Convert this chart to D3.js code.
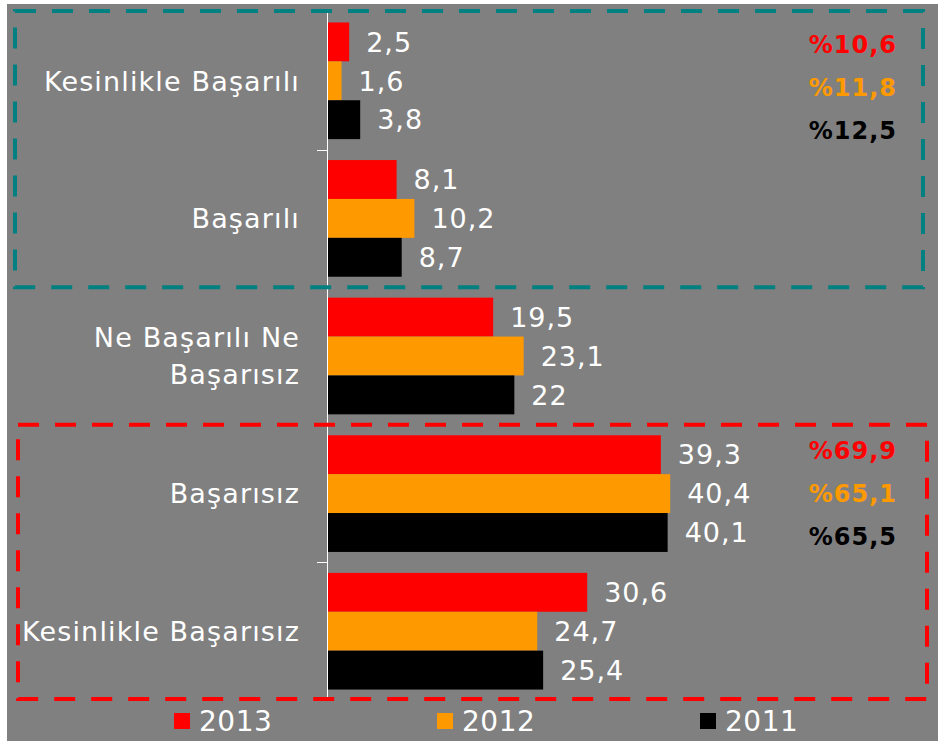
<!DOCTYPE html>
<html>
<head>
<meta charset="utf-8">
<script src="https://cdn.jsdelivr.net/npm/d3@7"></script>
<style>
  html, body { margin: 0; padding: 0; background: #fff; }
  svg { display: block; }
  text { font-family: "DejaVu Sans", Verdana, sans-serif; }
</style>
</head>
<body>
<div id="chart"></div>
<script>
(function() {
  const width = 938;
  const height = 741;

  // ===== Veri =====
  const categories = ["Kesinlikle Başarılı", "Başarılı", "Ne Başarılı Ne Başarısız", "Başarısız", "Kesinlikle Başarısız"];
  const catLines = [["Kesinlikle Başarılı"], ["Başarılı"], ["Ne Başarılı Ne", "Başarısız"], ["Başarısız"], ["Kesinlikle Başarısız"]];
  const years = ["2013", "2012", "2011"];
  const values2013 = [2.5, 8.1, 19.5, 39.3, 30.6];
  const values2012 = [1.6, 10.2, 23.1, 40.4, 24.7];
  const values2011 = [3.8, 8.7, 22, 40.1, 25.4];
  const successTotals = [10.6, 11.8, 12.5];   // 2013, 2012, 2011
  const failureTotals = [69.9, 65.1, 65.5];
  const colors = ["#ff0000", "#ff9900", "#000000"];

  const seriesValues = [values2013, values2012, values2011];
  const rows = [];
  categories.forEach((c, i) => {
    years.forEach((y, j) => rows.push({ cat: c, year: y, value: seriesValues[j][i] }));
  });

  const locale = d3.formatLocale({ decimal: ",", thousands: ".", grouping: [3], currency: ["", ""] });
  const fmt = locale.format("~f");

  const svg = d3.select("#chart").append("svg")
    .attr("width", width).attr("height", height);

  // arka plan
  svg.append("rect")
    .attr("x", 7).attr("y", 4)
    .attr("width", width - 7).attr("height", height - 4)
    .attr("fill", "#808080");

  const x = d3.scaleLinear().domain([0, 70]).range([328, 328 + 70 * 8.47]);
  const y0 = d3.scaleBand().domain(categories).range([12, 700])
    .paddingInner(0.152).paddingOuter(0.076);
  const y1 = d3.scaleBand().domain(years).range([0, y0.bandwidth()]);
  const color = d3.scaleOrdinal().domain(years).range(colors);
  const step = y0.step();
  const gapHalf = step * 0.076;

  // barlar
  svg.append("g")
    .selectAll("rect")
    .data(rows)
    .join("rect")
    .attr("x", x(0))
    .attr("y", d => y0(d.cat) + y1(d.year))
    .attr("width", d => x(d.value) - x(0))
    .attr("height", y1.bandwidth())
    .attr("fill", d => color(d.year));

  // değer etiketleri
  svg.append("g")
    .selectAll("text")
    .data(rows)
    .join("text")
    .attr("x", d => x(d.value) + 17)
    .attr("y", d => y0(d.cat) + y1(d.year) + y1.bandwidth() / 2)
    .attr("dy", "0.36em")
    .attr("fill", "#fff")
    .attr("font-size", 27)
    .attr("letter-spacing", 1)
    .text(d => fmt(d.value));

  // kategori ekseni
  const axis = svg.append("g").attr("stroke", "#fff").attr("stroke-width", 1);
  axis.append("line")
    .attr("x1", 327.5).attr("x2", 327.5)
    .attr("y1", 12).attr("y2", 700);
  axis.selectAll("line.tick")
    .data(categories.slice(1))
    .join("line")
    .attr("class", "tick")
    .attr("x1", 317).attr("x2", 327.5)
    .attr("y1", d => Math.round(y0(d) - gapHalf) + 0.5)
    .attr("y2", d => Math.round(y0(d) - gapHalf) + 0.5);

  // kategori etiketleri
  const catLabel = svg.append("g")
    .selectAll("text")
    .data(categories)
    .join("text")
    .attr("text-anchor", "end")
    .attr("fill", "#fff")
    .attr("font-size", 27)
    .attr("letter-spacing", 1.15);
  catLabel.each(function(d, i) {
    const lines = catLines[i];
    const cy = y0(d) + y0.bandwidth() / 2;
    const lh = 37;
    d3.select(this).selectAll("tspan")
      .data(lines)
      .join("tspan")
      .attr("x", 300)
      .attr("y", (l, k) => cy + (k - (lines.length - 1) / 2) * lh)
      .attr("dy", "0.36em")
      .text(l => l);
  });

  // kesikli çerçeveler
  const boxTop = y0(categories[0]) - gapHalf;
  const boxMid = y0(categories[2]) - gapHalf;
  svg.append("rect")
    .attr("x", 15).attr("y", boxTop - 1)
    .attr("width", 923 - 15).attr("height", boxMid - boxTop + 1)
    .attr("fill", "none")
    .attr("stroke", "#008080")
    .attr("stroke-width", 4)
    .attr("stroke-dasharray", "21,16");

  const redTop = y0(categories[3]) - gapHalf;
  svg.append("rect")
    .attr("x", 18).attr("y", redTop)
    .attr("width", 927 - 18).attr("height", 699 - redTop)
    .attr("fill", "none")
    .attr("stroke", "#ff0000")
    .attr("stroke-width", 4)
    .attr("stroke-dasharray", "21,16");

  // toplam yüzdeler
  function totals(data, top) {
    svg.append("g")
      .selectAll("text")
      .data(data)
      .join("text")
      .attr("text-anchor", "end")
      .attr("x", 897)
      .attr("y", (d, i) => top + i * 43)
      .attr("dy", "0.36em")
      .attr("font-size", 24)
      .attr("font-weight", "bold")
      .attr("letter-spacing", 1)
      .attr("fill", (d, i) => colors[i])
      .text(d => "%" + fmt(d));
  }
  totals(successTotals, y0(categories[0]) + 21.5);
  totals(failureTotals, y0(categories[3]) + 15.5);

  // lejant
  const legend = svg.append("g")
    .selectAll("g")
    .data(years)
    .join("g")
    .attr("transform", (d, i) => `translate(${174 + i * 263},721)`);
  legend.append("rect")
    .attr("x", 0).attr("y", -8)
    .attr("width", 16).attr("height", 16)
    .attr("fill", d => color(d));
  legend.append("text")
    .attr("x", 25)
    .attr("dy", "0.36em")
    .attr("fill", "#fff")
    .attr("font-size", 28)
    .attr("letter-spacing", 0.5)
    .text(d => d);
})();
</script>
</body>
</html>
